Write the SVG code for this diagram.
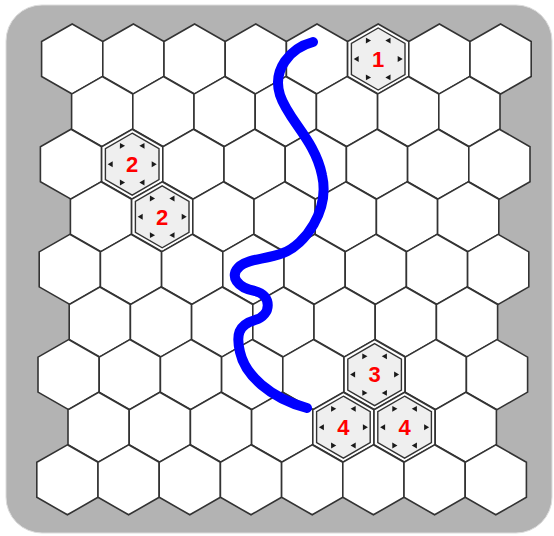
<svg xmlns="http://www.w3.org/2000/svg" xmlns:xlink="http://www.w3.org/1999/xlink" width="554" height="536" viewBox="0 0 554 536">
<style>
.hex{fill:#fff;stroke:#333;stroke-width:1.6;stroke-linejoin:miter}
.inner{fill:#efefef;stroke:#333;stroke-width:1.4}
.tri{fill:#1a1a1a}
.num{font-family:"Liberation Sans",Arial,sans-serif;font-weight:bold;font-size:22px;fill:#ff0000;text-anchor:middle}
.trail{fill:none;stroke:#0000ff;stroke-width:10;stroke-linecap:round;stroke-linejoin:round}
</style>
<defs>
<polygon id="hex" class="hex" points="0,-35 30.6,-17.5 30.6,17.5 0,35 -30.6,17.5 -30.6,-17.5"/>
<g id="badge">
<polygon class="inner" points="0,-31 26.8,-15.5 26.8,15.5 0,31 -26.8,15.5 -26.8,-15.5"/>
<g class="tri">
<polygon points="19.5,-3 24.5,0 19.5,3" transform="rotate(0)"/>
<polygon points="19.5,-3 24.5,0 19.5,3" transform="rotate(60)"/>
<polygon points="19.5,-3 24.5,0 19.5,3" transform="rotate(120)"/>
<polygon points="19.5,-3 24.5,0 19.5,3" transform="rotate(180)"/>
<polygon points="19.5,-3 24.5,0 19.5,3" transform="rotate(240)"/>
<polygon points="19.5,-3 24.5,0 19.5,3" transform="rotate(300)"/>
</g>
</g>
</defs>
<rect x="6" y="5" width="546" height="528" rx="36" fill="#b3b3b3" stroke="#dcdcdc" stroke-width="1"/>
<g id="grid">
<g id="h0-0"><use href="#hex" x="72.2" y="59"/></g>
<g id="h0-1"><use href="#hex" x="133.4" y="59"/></g>
<g id="h0-2"><use href="#hex" x="194.6" y="59"/></g>
<g id="h0-3"><use href="#hex" x="255.8" y="59"/></g>
<g id="h0-4"><use href="#hex" x="317" y="59"/></g>
<g id="h0-5"><use href="#hex" x="378.2" y="59"/></g>
<g id="h0-6"><use href="#hex" x="439.4" y="59"/></g>
<g id="h0-7"><use href="#hex" x="500.6" y="59"/></g>
<g id="h1-0"><use href="#hex" x="102.2" y="111.6"/></g>
<g id="h1-1"><use href="#hex" x="163.4" y="111.6"/></g>
<g id="h1-2"><use href="#hex" x="224.6" y="111.6"/></g>
<g id="h1-3"><use href="#hex" x="285.8" y="111.6"/></g>
<g id="h1-4"><use href="#hex" x="347" y="111.6"/></g>
<g id="h1-5"><use href="#hex" x="408.2" y="111.6"/></g>
<g id="h1-6"><use href="#hex" x="469.4" y="111.6"/></g>
<g id="h2-0"><use href="#hex" x="71" y="164.2"/></g>
<g id="h2-1"><use href="#hex" x="132.2" y="164.2"/></g>
<g id="h2-2"><use href="#hex" x="193.4" y="164.2"/></g>
<g id="h2-3"><use href="#hex" x="254.6" y="164.2"/></g>
<g id="h2-4"><use href="#hex" x="315.8" y="164.2"/></g>
<g id="h2-5"><use href="#hex" x="377" y="164.2"/></g>
<g id="h2-6"><use href="#hex" x="438.2" y="164.2"/></g>
<g id="h2-7"><use href="#hex" x="499.4" y="164.2"/></g>
<g id="h3-0"><use href="#hex" x="101" y="216.8"/></g>
<g id="h3-1"><use href="#hex" x="162.2" y="216.8"/></g>
<g id="h3-2"><use href="#hex" x="223.4" y="216.8"/></g>
<g id="h3-3"><use href="#hex" x="284.6" y="216.8"/></g>
<g id="h3-4"><use href="#hex" x="345.8" y="216.8"/></g>
<g id="h3-5"><use href="#hex" x="407" y="216.8"/></g>
<g id="h3-6"><use href="#hex" x="468.2" y="216.8"/></g>
<g id="h4-0"><use href="#hex" x="69.8" y="269.4"/></g>
<g id="h4-1"><use href="#hex" x="131" y="269.4"/></g>
<g id="h4-2"><use href="#hex" x="192.2" y="269.4"/></g>
<g id="h4-3"><use href="#hex" x="253.4" y="269.4"/></g>
<g id="h4-4"><use href="#hex" x="314.6" y="269.4"/></g>
<g id="h4-5"><use href="#hex" x="375.8" y="269.4"/></g>
<g id="h4-6"><use href="#hex" x="437" y="269.4"/></g>
<g id="h4-7"><use href="#hex" x="498.2" y="269.4"/></g>
<g id="h5-0"><use href="#hex" x="99.8" y="322"/></g>
<g id="h5-1"><use href="#hex" x="161" y="322"/></g>
<g id="h5-2"><use href="#hex" x="222.2" y="322"/></g>
<g id="h5-3"><use href="#hex" x="283.4" y="322"/></g>
<g id="h5-4"><use href="#hex" x="344.6" y="322"/></g>
<g id="h5-5"><use href="#hex" x="405.8" y="322"/></g>
<g id="h5-6"><use href="#hex" x="467" y="322"/></g>
<g id="h6-0"><use href="#hex" x="68.6" y="374.6"/></g>
<g id="h6-1"><use href="#hex" x="129.8" y="374.6"/></g>
<g id="h6-2"><use href="#hex" x="191" y="374.6"/></g>
<g id="h6-3"><use href="#hex" x="252.2" y="374.6"/></g>
<g id="h6-4"><use href="#hex" x="313.4" y="374.6"/></g>
<g id="h6-5"><use href="#hex" x="374.6" y="374.6"/></g>
<g id="h6-6"><use href="#hex" x="435.8" y="374.6"/></g>
<g id="h6-7"><use href="#hex" x="497" y="374.6"/></g>
<g id="h7-0"><use href="#hex" x="98.6" y="427.2"/></g>
<g id="h7-1"><use href="#hex" x="159.8" y="427.2"/></g>
<g id="h7-2"><use href="#hex" x="221" y="427.2"/></g>
<g id="h7-3"><use href="#hex" x="282.2" y="427.2"/></g>
<g id="h7-4"><use href="#hex" x="343.4" y="427.2"/></g>
<g id="h7-5"><use href="#hex" x="404.6" y="427.2"/></g>
<g id="h7-6"><use href="#hex" x="465.8" y="427.2"/></g>
<g id="h8-0"><use href="#hex" x="67.4" y="479.8"/></g>
<g id="h8-1"><use href="#hex" x="128.6" y="479.8"/></g>
<g id="h8-2"><use href="#hex" x="189.8" y="479.8"/></g>
<g id="h8-3"><use href="#hex" x="251" y="479.8"/></g>
<g id="h8-4"><use href="#hex" x="312.2" y="479.8"/></g>
<g id="h8-5"><use href="#hex" x="373.4" y="479.8"/></g>
<g id="h8-6"><use href="#hex" x="434.6" y="479.8"/></g>
<g id="h8-7"><use href="#hex" x="495.8" y="479.8"/></g>
</g>
<g id="marked">
<g id="m1"><use href="#badge" x="378.2" y="59"/><text class="num" x="378.2" y="66.8">1</text></g>
<g id="m2a"><use href="#badge" x="132.2" y="164.2"/><text class="num" x="132.2" y="172">2</text></g>
<g id="m2b"><use href="#badge" x="162.2" y="216.8"/><text class="num" x="162.2" y="224.6">2</text></g>
<g id="m3"><use href="#badge" x="374.6" y="374.6"/><text class="num" x="374.6" y="382.4">3</text></g>
<g id="m4a"><use href="#badge" x="343.4" y="427.2"/><text class="num" x="343.4" y="435">4</text></g>
<g id="m4b"><use href="#badge" x="404.6" y="427.2"/><text class="num" x="404.6" y="435">4</text></g>
</g>
<g id="connectors">
<path class="trail" d="M 313 42 C 290 48, 272 70, 280 95 C 288 120, 315 140, 322 175 C 330 210, 305 245, 283 253 C 265 260, 250 258, 240 266 C 228 276, 238 288, 255 291 C 272 295, 272 315, 255 320 C 238 325, 236 335, 240 352 C 245 375, 270 398, 307 408"/>
</g>
</svg>
